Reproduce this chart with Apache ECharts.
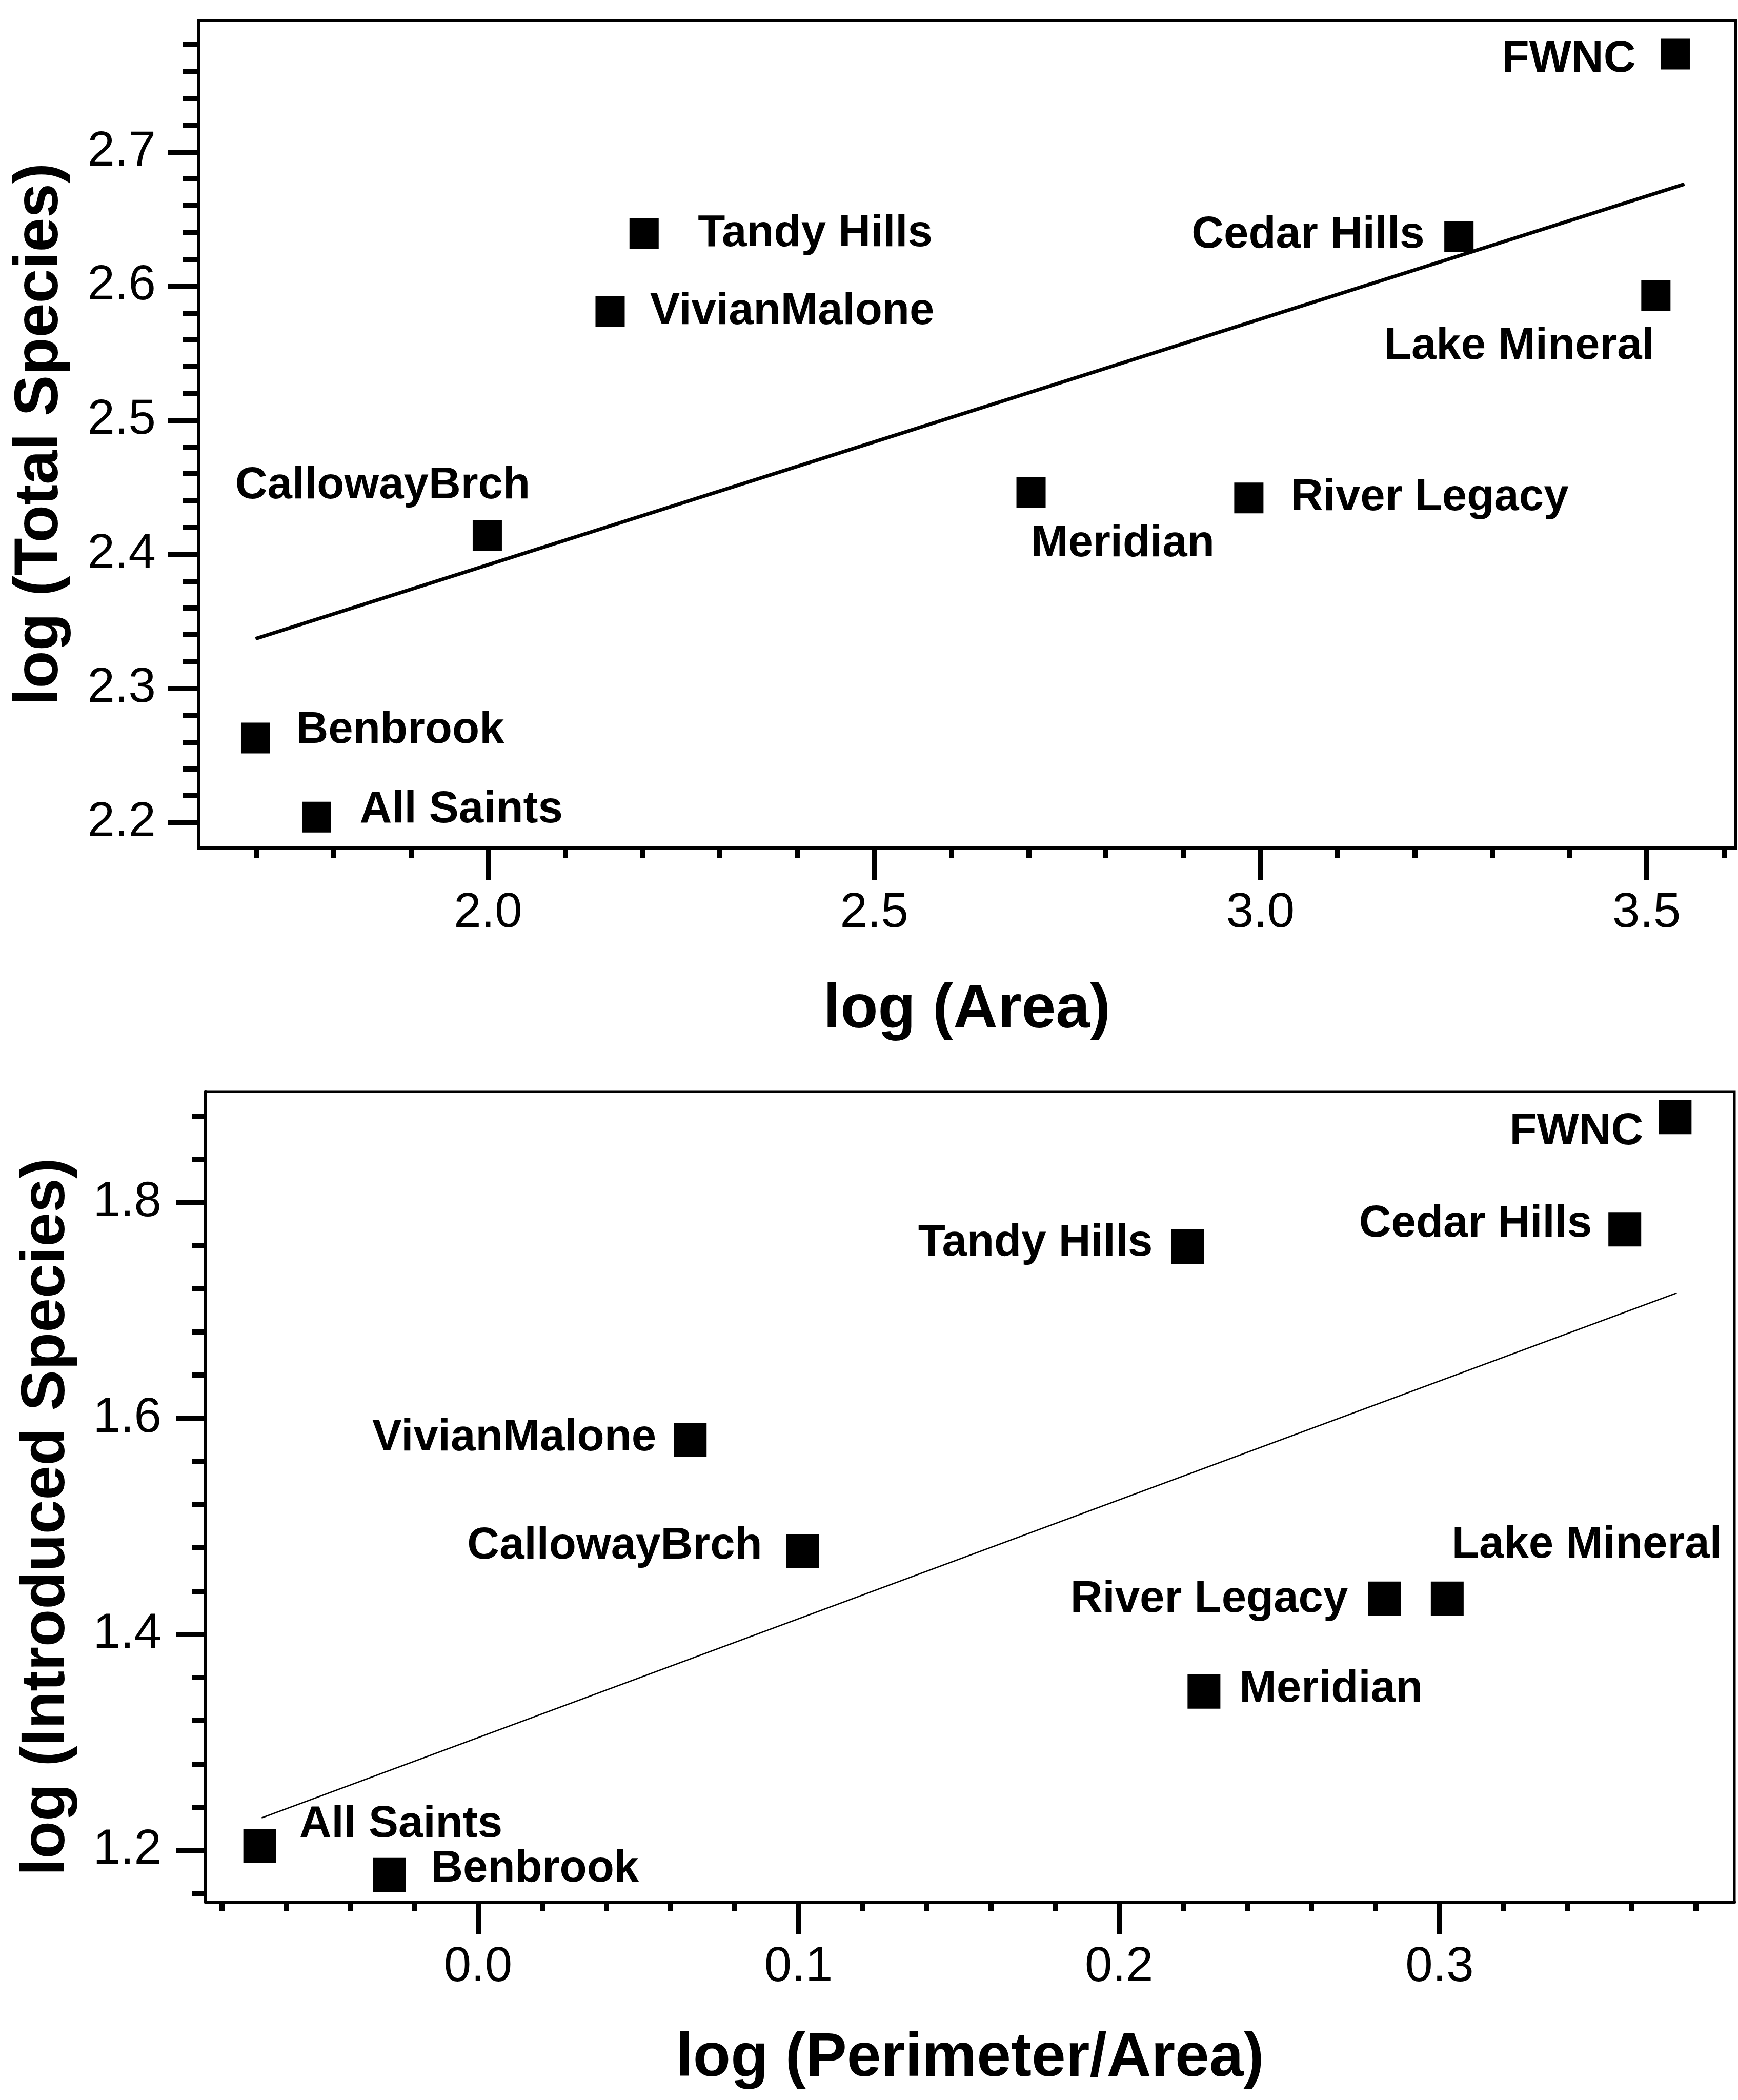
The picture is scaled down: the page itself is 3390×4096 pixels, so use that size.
<!DOCTYPE html>
<html>
<head>
<meta charset="utf-8">
<script src="https://cdn.jsdelivr.net/npm/echarts@6/dist/echarts.min.js"></script>
<style>
html,body{margin:0;padding:0;background:#fff;}
#chart{width:3390px;height:4096px;}
</style>
</head>
<body>
<div id="chart"></div>
<script>
// ---- data ----
const sites = ['FWNC','Cedar Hills','Tandy Hills','VivianMalone','Lake Mineral','CallowayBrch','Meridian','River Legacy','Benbrook','All Saints'];
const logArea = [3.537, 3.257, 2.202, 2.158, 3.512, 1.999, 2.703, 2.985, 1.699, 1.778];
const logTotalSpecies = [2.773, 2.637, 2.639, 2.581, 2.593, 2.414, 2.446, 2.442, 2.263, 2.204];
const logPerimeterArea = [0.3735, 0.3578, 0.2214, 0.0662, 0.3024, 0.1013, 0.2265, 0.2828, -0.0277, -0.0681];
const logIntroducedSpecies = [1.879, 1.775, 1.759, 1.580, 1.433, 1.477, 1.347, 1.433, 1.177, 1.204];
const areaFitX = [1.699, 3.549];
const areaFitY = [2.337, 2.676];
const paFitX = [-0.0675, 0.374];
const paFitY = [1.230, 1.716];

// tick labels
const topXTicks = [2.0, 2.5, 3.0, 3.5];
const topYTicks = [2.2, 2.3, 2.4, 2.5, 2.6, 2.7];
const botXTicks = [0.0, 0.1, 0.2, 0.3];
const botYTicks = [1.2, 1.4, 1.6, 1.8];

// axis ranges
const topXRange = [1.625, 3.615];
const topYRange = [2.181, 2.798];
const botXRange = [-0.085, 0.392];
const botYRange = [1.152, 1.9026];

// ---- layout / styling ----
const FONT = '"Liberation Sans", Arial, Helvetica, sans-serif';
function minors(start, end, step, majors) {
  const out = [];
  const n = Math.round((end - start) / step);
  for (let i = 0; i <= n; i++) {
    const v = Math.round((start + i * step) * 10000) / 10000;
    if (!majors.some(m => Math.abs(m - v) < 1e-6)) out.push(v);
  }
  return out;
}
const topXMinor = minors(1.7, 3.6, 0.1, topXTicks);
const topYMinor = minors(2.20, 2.78, 0.02, topYTicks);
const botXMinor = minors(-0.08, 0.38, 0.02, botXTicks);
const botYMinor = minors(1.16, 1.88, 0.04, botYTicks);

const topLabelLayout = {
  'FWNC': ['right', -77, 11],
  'Cedar Hills': ['right', -67, -2],
  'Lake Mineral': ['right', -3, 100],
  'Tandy Hills': ['left', 105, 0],
  'VivianMalone': ['left', 78, 0],
  'CallowayBrch': ['center', -204, -96],
  'Meridian': ['left', 0, 100],
  'River Legacy': ['left', 82, 0],
  'Benbrook': ['left', 79, -14],
  'All Saints': ['left', 84, -14]
};
const botLabelLayout = {
  'FWNC': ['right', -62, 29],
  'Cedar Hills': ['right', -64, -10],
  'Tandy Hills': ['right', -68, -6],
  'VivianMalone': ['right', -66, -3],
  'CallowayBrch': ['right', -79, -9],
  'River Legacy': ['right', -71, 2],
  'Lake Mineral': ['left', 9, -104],
  'Meridian': ['left', 69, -4],
  'All Saints': ['left', 77, -41],
  'Benbrook': ['left', 81, -11]
};

function pointData(xs, ys, layout) {
  return sites.map((s, i) => {
    const l = layout[s];
    return {
      name: s,
      value: [xs[i], ys[i]],
      label: {
        show: true, position: 'inside', align: l[0], verticalAlign: 'middle',
        offset: [l[1], l[2]], formatter: s,
        color: '#000', fontWeight: 'bold', fontSize: 87, fontFamily: FONT
      }
    };
  });
}

const fmt1 = v => Number(v).toFixed(1);
const TICKW = 10;

function mainAxis(gridIndex, range, ticks, opts) {
  return Object.assign({
    type: 'value', gridIndex, min: range[0], max: range[1],
    axisLine: { show: true, onZero: false, lineStyle: { color: '#000', width: 6 } },
    axisTick: { show: true, inside: false, customValues: ticks, length: 62, lineStyle: { color: '#000', width: TICKW } },
    axisLabel: { show: true, customValues: ticks, formatter: fmt1, color: '#000', fontSize: 96, fontFamily: FONT, margin: 80 },
    splitLine: { show: false },
    nameTextStyle: { color: '#000', fontSize: 120, fontWeight: 'bold', fontFamily: FONT }
  }, opts);
}
function minorAxis(gridIndex, range, ticks, len, pos) {
  return {
    type: 'value', gridIndex, min: range[0], max: range[1], position: pos, offset: 0,
    axisLine: { show: false, onZero: false },
    axisTick: { show: true, inside: false, customValues: ticks, length: len, lineStyle: { color: '#000', width: TICKW } },
    axisLabel: { show: false },
    splitLine: { show: false }
  };
}

const option = {
  backgroundColor: '#fff',
  animation: false,
  grid: [
    { left: 387, right: 5, top: 40, height: 1614, show: true, borderColor: '#000', borderWidth: 6, backgroundColor: 'transparent' },
    { left: 401, right: 7, top: 2129, height: 1581, show: true, borderColor: '#000', borderWidth: 5, backgroundColor: 'transparent' }
  ],
  xAxis: [
    mainAxis(0, topXRange, topXTicks, { position: 'bottom', name: 'log (Area)', nameLocation: 'middle', nameGap: 257 }),
    minorAxis(0, topXRange, topXMinor, 19, 'bottom'),
    mainAxis(1, botXRange, botXTicks, { position: 'bottom', name: 'log (Perimeter/Area)', nameLocation: 'middle', nameGap: 246 }),
    minorAxis(1, botXRange, botXMinor, 17, 'bottom')
  ],
  yAxis: [
    mainAxis(0, topYRange, topYTicks, { position: 'left', name: 'log (Total Species)', nameLocation: 'middle', nameGap: 248,
      axisTick: { show: true, customValues: topYTicks, length: 60, lineStyle: { color: '#000', width: TICKW } },
      axisLabel: { show: true, customValues: topYTicks, formatter: fmt1, color: '#000', fontSize: 96, fontFamily: FONT, margin: 83 } }),
    minorAxis(0, topYRange, topYMinor, 30, 'left'),
    mainAxis(1, botYRange, botYTicks, { position: 'left', name: 'log (Introduced Species)', nameLocation: 'middle', nameGap: 249,
      axisTick: { show: true, customValues: botYTicks, length: 57, lineStyle: { color: '#000', width: TICKW } },
      axisLabel: { show: true, customValues: botYTicks, formatter: fmt1, color: '#000', fontSize: 96, fontFamily: FONT, margin: 86 },
      nameTextStyle: { color: '#000', fontSize: 120, fontWeight: 'bold', fontFamily: FONT, padding: [0, 78, 0, 0] } }),
    minorAxis(1, botYRange, botYMinor, 27, 'left')
  ],
  series: [
    {
      type: 'line', xAxisIndex: 0, yAxisIndex: 0, silent: true, symbol: 'none',
      lineStyle: { color: '#000', width: 7 },
      data: areaFitX.map((x, i) => [x, areaFitY[i]])
    },
    {
      type: 'scatter', xAxisIndex: 0, yAxisIndex: 0, symbol: 'rect', symbolSize: [57, 60],
      itemStyle: { color: '#000', opacity: 1 },
      data: pointData(logArea, logTotalSpecies, topLabelLayout)
    },
    {
      type: 'line', xAxisIndex: 2, yAxisIndex: 2, silent: true, symbol: 'none',
      lineStyle: { color: '#000', width: 2.5 },
      data: paFitX.map((x, i) => [x, paFitY[i]])
    },
    {
      type: 'scatter', xAxisIndex: 2, yAxisIndex: 2, symbol: 'rect', symbolSize: [64, 67],
      itemStyle: { color: '#000', opacity: 1 },
      data: pointData(logPerimeterArea, logIntroducedSpecies, botLabelLayout)
    }
  ]
};

const chart = echarts.init(document.getElementById('chart'), null, { renderer: 'canvas' });
chart.setOption(option);
</script>
</body>
</html>
